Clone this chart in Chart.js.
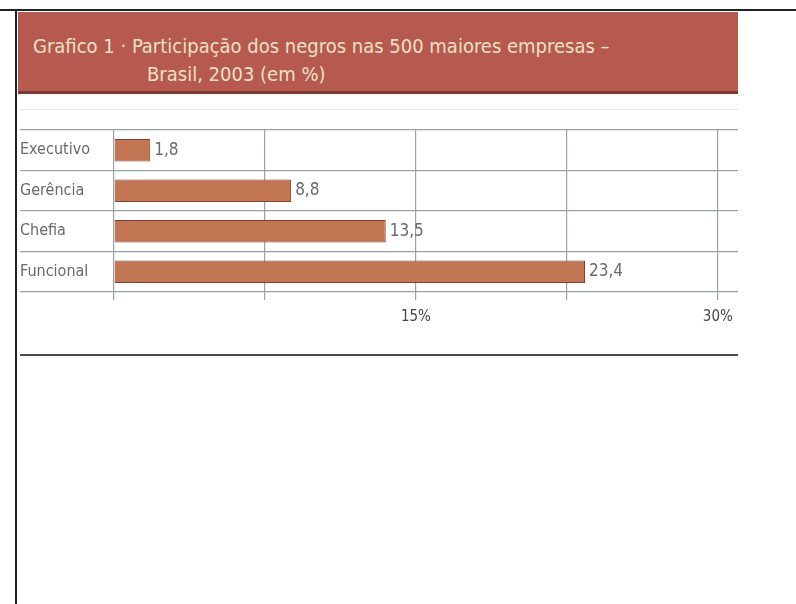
<!DOCTYPE html>
<html>
<head>
<meta charset="utf-8">
<script src="https://cdn.jsdelivr.net/npm/chart.js@4"></script>
<style>
  body { margin: 0; background: #fff; width: 796px; height: 604px; position: relative; overflow: hidden; }
  .frame-top { position: absolute; left: 0; top: 9px; width: 796px; height: 2px; background: #222; }
  .frame-left { position: absolute; left: 15px; top: 9px; width: 2px; height: 600px; background: #222; }
  .title-box { position: absolute; left: 18px; top: 12px; width: 720px; height: 79px; background: #b65a4f; border-bottom: 3px solid #7d3a32; }
  .title { position: absolute; color: #eee0c4; font-family: "Liberation Sans Narrow", "DejaVu Sans Condensed", sans-serif; font-size: 20px; white-space: nowrap; }
  .rule-faint { position: absolute; left: 20px; top: 109px; width: 718px; height: 1px; background: #e4e4e4; }
  .rule-bottom { position: absolute; left: 20px; top: 354px; width: 718px; height: 2px; background: #4a4a4a; }
  #wrap { position: absolute; left: 0; top: 110px; width: 796px; height: 250px; }
</style>
</head>
<body>
<div class="frame-top"></div>
<div class="frame-left"></div>
<div class="title-box">
  <div class="title" style="left:15px; top:22px;">Grafico 1 · Participação dos negros nas 500 maiores empresas –</div>
  <div class="title" style="left:129px; top:50px;">Brasil, 2003 (em %)</div>
</div>
<div class="rule-faint"></div>
<div class="rule-bottom"></div>
<div id="wrap"><canvas id="chart"></canvas></div>
<script>
const categories = ["Executivo", "Gerência", "Chefia", "Funcional"];
const values = [1.8, 8.8, 13.5, 23.4];
const tickLabels = { 15: "15%", 30: "30%" };

const font = '"Liberation Sans Narrow", "DejaVu Sans Condensed", sans-serif';

const valueLabels = {
  id: "valueLabels",
  afterDatasetsDraw(chart) {
    const ctx = chart.ctx;
    const meta = chart.getDatasetMeta(0);
    ctx.save();
    ctx.font = "17px " + font;
    ctx.fillStyle = "#6a6a6a";
    ctx.textAlign = "left";
    ctx.textBaseline = "middle";
    meta.data.forEach((bar, i) => {
      ctx.fillText(values[i].toFixed(1).replace(".", ","), bar.x + 4, bar.y);
    });
    ctx.restore();
  }
};

new Chart(document.getElementById("chart"), {
  type: "bar",
  data: {
    labels: categories,
    datasets: [{
      data: values,
      backgroundColor: "#c27654",
      borderColor: "#7e4230",
      borderWidth: 1,
      barPercentage: 0.56,
      categoryPercentage: 1
    }]
  },
  options: {
    indexAxis: "y",
    responsive: true,
    maintainAspectRatio: false,
    animation: false,
    layout: { padding: { left: 20, right: 58, top: 20, bottom: 28 } },
    plugins: { legend: { display: false }, tooltip: { enabled: false } },
    scales: {
      x: {
        min: 0,
        max: 31,
        border: { display: false },
        grid: { color: "#9aa3a3", lineWidth: 1.2, tickLength: 8 },
        ticks: {
          stepSize: 7.5,
          includeBounds: false,
          padding: 8,
          color: "#444",
          font: { family: font, size: 15 },
          maxRotation: 0,
          autoSkip: false,
          callback: (v) => tickLabels[v] || ""
        },
        afterFit: (s) => { s.height = 40; }
      },
      y: {
        border: { display: false },
        grid: { offset: true, color: "#9aa3a3", lineWidth: 1.2, tickLength: 94 },
        ticks: {
          crossAlign: "far",
          color: "#6a6a6a",
          font: { family: font, size: 16 }
        },
        afterFit: (s) => { s.width = 94; }
      }
    }
  },
  plugins: [valueLabels]
});
</script>
</body>
</html>
